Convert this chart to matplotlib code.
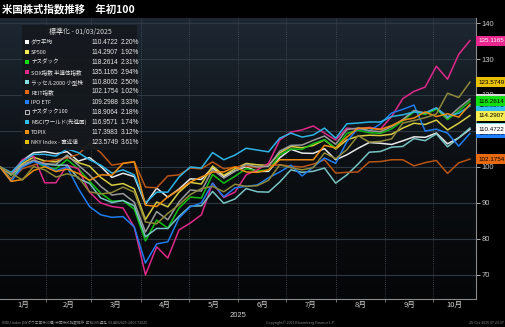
import matplotlib
matplotlib.use('Agg')
import matplotlib.pyplot as plt
import matplotlib.dates as mdates
import matplotlib.transforms as mtransforms
from matplotlib.colors import LinearSegmentedColormap
from matplotlib import font_manager
import numpy as np
import pandas as pd

plt.rcParams['font.family'] = ['Noto Sans CJK JP', 'DejaVu Sans']

installed = {f.name for f in font_manager.fontManager.ttflist}
NARROW = ['Liberation Sans Narrow'] if 'Liberation Sans Narrow' in installed else ['Liberation Sans']
NARROW = NARROW + ['Noto Sans CJK JP', 'DejaVu Sans']

# weekly closes, normalised to 100 at 01/03/2025
dates = pd.date_range('2025-01-03', '2025-10-24', freq='W-FRI')

dow = [100, 98.14, 101.77, 103.96, 104.24, 103.68, 104.25, 101.63, 102.60, 100.16,
       97.09, 98.25, 97.31, 89.66, 94.10, 91.60, 93.87, 96.69, 96.53, 99.82,
       97.36, 98.92, 100.07, 98.75, 98.77, 102.54, 104.91, 103.84, 103.77, 105.08,
       102.00, 103.38, 105.18, 106.79, 106.58, 106.25, 107.26, 108.38, 108.23, 109.42,
       106.43, 108.10, 110.4722]
sp500 = [100, 98.06, 100.93, 102.68, 101.67, 101.41, 102.91, 101.20, 100.22, 97.10,
         94.90, 95.39, 93.92, 85.39, 90.26, 88.91, 92.98, 95.71, 95.26, 100.27,
         97.66, 99.50, 100.98, 100.59, 100.44, 103.89, 105.67, 105.35, 105.97, 107.52,
         104.98, 107.52, 108.55, 108.83, 108.72, 109.09, 110.80, 112.15, 111.81, 113.03,
         110.28, 112.15, 114.2907]
nasdaq = [100, 97.66, 100.04, 101.69, 100.02, 99.49, 102.06, 99.50, 96.05, 92.73,
          90.48, 90.63, 88.28, 79.44, 85.23, 83.00, 88.59, 91.62, 91.37, 97.91,
          95.49, 97.41, 99.53, 98.90, 99.11, 103.32, 104.99, 104.91, 106.49, 107.57,
          105.24, 109.32, 110.20, 109.55, 109.35, 110.59, 112.84, 115.33, 114.58, 116.09,
          113.16, 115.58, 118.2614]
sox = [100, 98, 102, 103, 95.6, 95.6, 100.5, 99.5, 93, 90,
       89, 88.6, 83.3, 70, 77.8, 74.7, 82.5, 84.4, 86.7, 95.5,
       91.5, 93, 97.8, 99.2, 101, 107.5, 109.7, 110.3, 111.4, 109.4,
       107.5, 110.8, 110.5, 111, 110.5, 114, 119, 121, 122.2, 128,
       124.4, 131.3, 135.1165]
russell = [100, 96.6, 100.3, 101.7, 100.8, 100.5, 100.5, 96.8, 95.4, 91.4,
           90.1, 90.7, 89.2, 80.6, 82.9, 82.9, 86.3, 89.1, 89.2, 93.2,
           89.9, 91.1, 94.0, 93.1, 93.0, 95.8, 99.2, 98.5, 98.8, 99.7,
           95.5, 97.8, 100.8, 104.1, 104.3, 105.5, 105.7, 107.9, 107.3, 109.2,
           105.6, 108.1, 110.8002]
reit = [100, 96.5, 99.5, 100.5, 101.5, 102, 102.5, 103.5, 106.5, 104,
        100.5, 101, 101.5, 94.4, 94.2, 97.5, 97.8, 99.7, 99.5, 101.4,
        99.5, 100, 100.2, 99.8, 100.4, 100.6, 100.2, 100.0, 100.8, 102,
        98.3, 98.5, 98.6, 101.4, 101.5, 102, 102, 100.3, 101.2, 101.8,
        98.2, 101.15, 102.1754]
ipo = [100, 96, 100, 101.5, 100.5, 99, 100, 94, 89, 86.7,
       86, 86.2, 83.3, 73.3, 78.6, 79.2, 85.8, 88.9, 90, 95.5,
       91.7, 94.2, 94.6, 95, 97, 98.6, 100.5, 97.5, 100, 102.5,
       101, 107, 110.8, 110, 112, 115, 116, 117.2, 110, 110.5,
       109.4, 105.8, 109.2988]
ndx = [100, 97.8, 100.5, 101.9, 100.9, 100.7, 103.3, 100.5, 97.8, 94.6,
       92.2, 92.6, 90.2, 81.9, 87.6, 85.3, 90.3, 93.6, 93.3, 99.3,
       96.9, 98.8, 100.7, 100.0, 100.2, 104.4, 106.0, 106.1, 107.4, 108.6,
       106.3, 110.4, 110.8, 110.1, 109.8, 111.2, 113.2, 115.7, 115.0, 116.4,
       113.6, 116.4, 118.9064]
msci = [100, 98.5, 101.5, 103.5, 103.5, 103, 105, 104, 102, 100.5,
        98.3, 99.2, 97.8, 90, 93, 93, 97.2, 100, 99.7, 104,
        102, 103.3, 105.2, 104.7, 104.2, 108, 109.4, 108.3, 108.9, 110.8,
        108, 112, 112.2, 112.5, 112.5, 114, 114.5, 115.3, 115, 116.4,
        114, 114.95, 116.9571]
topix = [100, 96, 96.5, 99, 100.1, 98.7, 99.4, 98.2, 96.3, 97.8,
         97.7, 101, 101.4, 89.4, 89, 91.7, 93.6, 95.8, 97.2, 98.6,
         98.6, 100, 98.6, 98.5, 99.2, 102, 102, 102, 102, 106,
         105.3, 108.3, 110.8, 110.8, 110.4, 111.5, 113, 113.6, 115.3, 114,
         114.8, 113.85, 117.3983]
nky = [100, 98.2, 96.4, 100.1, 99.2, 97.2, 98.1, 97.2, 93.1, 92.5,
       92.9, 94.4, 93, 84.7, 84.2, 87.1, 89.5, 92.3, 94, 94.6,
       93.1, 95.2, 94.6, 94.8, 96.3, 100.6, 99.8, 99.2, 99.8, 103.9,
       102.3, 104.8, 108.7, 106.9, 107.1, 107.8, 112.2, 112.9, 113.7, 114.7,
       120.5, 119.3, 123.5749]

names = ['ダウ平均', 'SP500', 'ナスダック', 'SOX指数 半導体指数', 'ラッセル2000 小型株',
         'REIT指数', 'IPO ETF', 'ナスダック100', 'MSCIワールド(先進国)', 'TOPIX',
         'NKY Index - 直近値']
pct = ['2.20%', '1.92%', '2.31%', '2.94%', '2.50%', '1.02%', '3.33%', '2.18%',
       '1.74%', '3.12%', '3.61%']
series = [dow, sp500, nasdaq, sox, russell, reit, ipo, ndx, msci, topix, nky]
line_colors = ['#e8e8e8', '#d8cc40', '#10c010', '#e0288a', '#78c4c4', '#b85414',
               '#1e7cf0', '#9a9a9a', '#2cb4e6', '#f08c10', '#8e8838']
box_colors = ['#ffffff', '#f4ec50', '#10e010', '#e8288e', '#80e0e0', '#e86a10',
              '#2080ff', '#d8d8d8', '#30c0f0', '#f09010', '#e8c000']

W, H = 505, 327
fig = plt.figure(figsize=(W / 100, H / 100), dpi=100, facecolor='black')
ax = fig.add_axes([0, 1 - 299 / H, 476 / W, 281 / H])

x = mdates.date2num(dates)
x0 = x[0]
x1 = x0 + 297.8
ax.set_xlim(x0, x1)
ax.set_ylim(63.3, 141.4)

# background gradient
grad = np.linspace(1, 0, 256).reshape(-1, 1)
cmap = LinearSegmentedColormap.from_list('bg', ['#050607', '#0c1014', '#1e2833'])
ax.imshow(grad, cmap=cmap, aspect='auto', extent=[0, 1, 0, 1],
          transform=ax.transAxes, zorder=0)

for v in range(70, 141, 10):
    ax.axhline(v, color='#2e3843', lw=0.8, zorder=1)
month_starts = mdates.date2num(pd.date_range('2025-02-01', '2025-10-01', freq='MS'))
for m in month_starts:
    ax.axvline(m, color='#4a5058', lw=0.6, ls=(0, (1, 1.5)), zorder=1)

for s, c in zip(series, line_colors):
    ax.plot(x, s, color=c, lw=1.1, zorder=3)

for sp in ['top', 'left']:
    ax.spines[sp].set_visible(False)
for sp in ['bottom', 'right']:
    ax.spines[sp].set_color('#8a8a8a')
    ax.spines[sp].set_linewidth(0.8)

ax.yaxis.tick_right()
ax.set_yticks(range(70, 141, 10))
ax.tick_params(axis='y', colors='#c8c8c8', labelsize=5.5, length=3, width=0.6, pad=1)
for lab in ax.get_yticklabels():
    lab.set_family(NARROW)
ax.set_xticks(month_starts)
ax.set_xticklabels([])
ax.tick_params(axis='x', colors='#8a8a8a', length=2, width=0.6)

# month labels centred in each visible month
bounds = [x0] + list(month_starts) + [x1]
trans_x = mtransforms.blended_transform_factory(ax.transData, ax.transAxes)
for i in range(10):
    cx = (bounds[i] + bounds[i + 1]) / 2
    ax.text(cx, -0.022, f'{i + 1}月', transform=trans_x, ha='center', va='center',
            color='#d0d0d0', fontsize=5.5)
ax.text(0.5, -0.058, '2025', transform=ax.transAxes, ha='center', va='center',
        color='#d0d0d0', fontsize=5.5, family=NARROW)

# value labels on the right axis (they overlap, as in the original)
trans_y = mtransforms.blended_transform_factory(ax.transAxes, ax.transData)
order = [7, 9, 8, 2, 4, 6, 0, 1, 10, 3, 5]
for i in order:
    val = series[i][-1]
    tc = 'white' if i == 3 else 'black'
    ax.text(1.006, val, f'{val:.4f}', transform=trans_y, ha='left', va='center',
            fontsize=4.5, color=tc, clip_on=False, zorder=6, family=NARROW,
            bbox=dict(boxstyle='square,pad=0.4', fc=box_colors[i], ec='none'))


def fx(px):
    return px / W


def fy(py):
    return 1 - py / H


# legend panel
fig.patches.append(plt.Rectangle((fx(22), fy(150)), fx(137) - fx(22), fy(25) - fy(150),
                                 transform=fig.transFigure, fc='#15191e', ec='none',
                                 alpha=0.92, zorder=5))
fig.text(fx(80), fy(32), '標準化 - 01/03/2025', ha='center', va='center',
         color='#d8d8d8', fontsize=5, zorder=6)
for i, nm in enumerate(names):
    yy = fy(42 + 10 * i)
    if i == 7:
        fig.patches.append(plt.Rectangle((fx(25), yy - 0.006), fx(4), 0.012,
                                         transform=fig.transFigure, fc='none',
                                         ec='white', lw=0.5, zorder=6))
    else:
        fig.patches.append(plt.Rectangle((fx(25), yy - 0.006), fx(4), 0.012,
                                         transform=fig.transFigure,
                                         fc=box_colors[i], ec='none', zorder=6))
    fig.text(fx(31), yy, nm, ha='left', va='center', color='#e8e8e8',
             fontsize=4.0, zorder=6)
    fig.text(fx(118.5), yy, f'{series[i][-1]:.4f}', ha='right', va='center',
             color='#e8e8e8', fontsize=4.7, zorder=6, family=NARROW)
    fig.text(fx(120.5), yy, pct[i], ha='left', va='center', color='#e8e8e8',
             fontsize=4.7, zorder=6, family=NARROW)

fig.text(fx(2), fy(9), '米国株式指数推移　年初100', ha='left', va='center',
         color='white', fontsize=7.5, fontweight='bold')

fig.text(fx(2), fy(323), 'INDU Index (NYダウ工業株30種) 米国株式指数推移  年初100 週足  03JAN2025-24OCT2025',
         ha='left', va='center', color='#8c8c8c', fontsize=2.6)
fig.text(fx(301), fy(323), 'Copyright© 2025 Bloomberg Finance L.P.', ha='center',
         va='center', color='#8c8c8c', fontsize=2.6)
fig.text(fx(504), fy(323), '25-Oct-2025 07:23:37', ha='right', va='center',
         color='#8c8c8c', fontsize=2.6)

fig.savefig('out.png', dpi=100, facecolor='black')
